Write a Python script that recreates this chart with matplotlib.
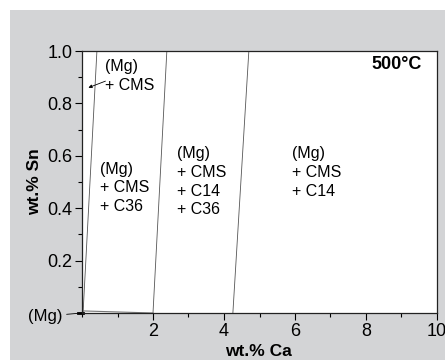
import matplotlib.pyplot as plt
from matplotlib.patches import Rectangle
from matplotlib.ticker import MultipleLocator

plt.rcParams['font.family'] = ['Liberation Sans', 'DejaVu Sans']

# phase boundaries: Ca content at Sn = 0 and Sn = 1.0 wt.%
ca_bottom = [0.03, 2.0, 4.25]
ca_top = [0.42, 2.39, 4.70]
sn_ends = [0.0, 1.0]

# (Mg) solvus line along the Ca axis
solvus_ca = [0.0, 2.0]
solvus_sn = [0.008, 0.0]

# phase field labels: (x, y of top line, text)
fields = [
    (0.51, 0.578, "(Mg)\n+ CMS\n+ C36"),
    (2.68, 0.638, "(Mg)\n+ CMS\n+ C14\n+ C36"),
    (5.92, 0.638, "(Mg)\n+ CMS\n+ C14"),
]
xticks = [2, 4, 6, 8, 10]
yticks = [0.2, 0.4, 0.6, 0.8, 1.0]

fig = plt.figure(figsize=(4.45, 3.6), dpi=100)
fig.patches.append(Rectangle((10 / 445, 0), 1, 350 / 360, transform=fig.transFigure,
                             facecolor='#d3d4d6', edgecolor='none', zorder=-10))
ax = fig.add_axes([82 / 445, 47 / 360, 355 / 445, 262 / 360])
ax.set_facecolor('white')

for x0, x1 in zip(ca_bottom, ca_top):
    ax.plot([x0, x1], sn_ends, color='#555555', lw=0.6)
ax.plot(solvus_ca, solvus_sn, color='#777777', lw=0.8)

for x, y, s in fields:
    ax.text(x, y, s, fontsize=11.5, va='top', ha='left', linespacing=1.32)

ax.text(0.65, 0.968, "(Mg)\n+ CMS", fontsize=11.5, va='top', ha='left', linespacing=1.32)
ax.annotate("", xy=(0.18, 0.86), xytext=(0.66, 0.885),
            arrowprops=dict(arrowstyle='-|>', lw=0.6, color='black',
                            mutation_scale=5, shrinkA=0, shrinkB=0))
ax.annotate("(Mg)", xy=(0, 0), xytext=(-0.55, -0.012), fontsize=12,
            ha='right', va='center', annotation_clip=False,
            arrowprops=dict(arrowstyle='-', lw=0.6, color='black', shrinkA=1, shrinkB=0))
ax.plot([-0.1, 0.02], [0, 0], color='black', lw=2, clip_on=False)

ax.text(9.58, 0.947, "500°C", fontsize=13, fontweight='bold', ha='right', va='center')

ax.set_xlim(0, 10)
ax.set_ylim(0, 1.0)
ax.set_xticks(xticks)
ax.set_yticks(yticks)
ax.set_xticklabels([str(t) for t in xticks])
ax.set_yticklabels([f"{t:.1f}" for t in yticks])
ax.xaxis.set_minor_locator(MultipleLocator(1))
ax.yaxis.set_minor_locator(MultipleLocator(0.1))
ax.tick_params(which='major', direction='out', length=5, width=0.8, labelsize=13, pad=2)
ax.tick_params(which='minor', direction='out', length=3, width=0.8)
for sp in ax.spines.values():
    sp.set_linewidth(0.9)
    sp.set_color('#222222')

ax.set_xlabel("wt.% Ca", fontsize=12.5, fontweight='bold')
ax.set_ylabel("wt.% Sn", fontsize=12.5, fontweight='bold')
ax.xaxis.set_label_coords(0.496, -0.118)
ax.yaxis.set_label_coords(-0.113, 0.5)

fig.savefig("out.png", dpi=100)
